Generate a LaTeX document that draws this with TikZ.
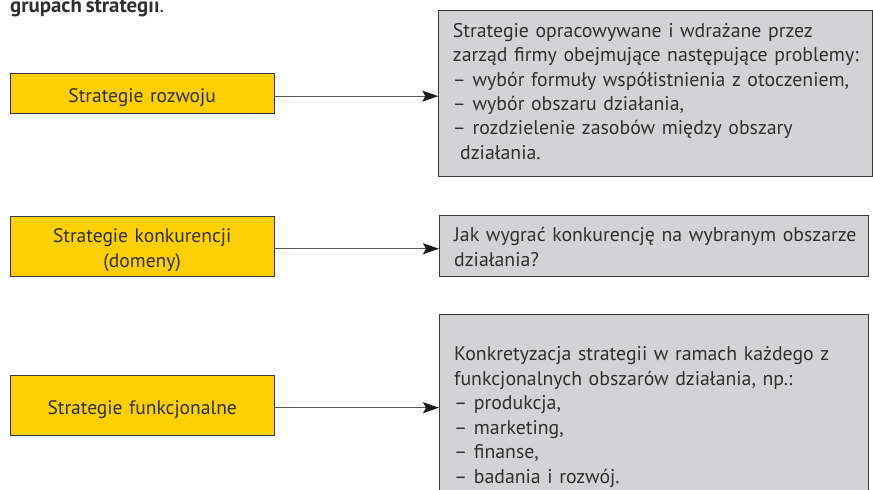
\documentclass[tikz,border=0pt]{standalone}
\usepackage{fontspec}
\setmainfont{PT Sans}
\newfontfamily\descfont[WordSpace=0.75]{PT Sans}
\usetikzlibrary{arrows.meta}

\definecolor{boxyellow}{RGB}{255,208,0}
\definecolor{boxgray}{RGB}{211,211,213}
\definecolor{edgegray}{RGB}{58,58,58}
\definecolor{inkgray}{RGB}{48,48,48}
\definecolor{linegray}{RGB}{90,90,90}
\definecolor{tipink}{RGB}{30,30,30}

% base size from the width of one description line, then per-role sizes
\newlength\probewidth
\newcommand\setbodysize{%
  \settowidth\probewidth{\descfont\fontsize{10}{12}\selectfont zarząd firmy obejmujące następujące problemy:}%
  \pgfmathsetmacro\basesize{10*416/\probewidth}%
  \pgfmathsetmacro\descsize{0.95*\basesize}%
  \pgfmathsetmacro\labelsize{0.937*\basesize}%
  \xdef\basesize{\basesize}\xdef\descsize{\descsize}\xdef\labelsize{\labelsize}}

\tikzset{
  yellowbox/.style={draw=edgegray, line width=0.9pt, fill=boxyellow,
    anchor=north west, minimum width=264.5pt, inner sep=0pt,
    text width=264.5pt, align=center, text=inkgray,
    font=\descfont\fontsize{\labelsize}{25}\selectfont},
  graybox/.style={draw=edgegray, line width=0.9pt, fill=boxgray,
    anchor=north west, inner sep=0pt},
  bodytext/.style={anchor=base west, inner sep=0pt, text width=440pt,
    align=left, text=inkgray},
  link/.style={draw=linegray, line width=1.3pt,
    -{Stealth[length=16pt, width=11pt, inset=3pt, color=tipink]}},
}

\begin{document}
\setbodysize
\begin{tikzpicture}[x=1pt,y=-1pt]
  \useasboundingbox (0,0) rectangle (873,490);
  \clip (0,0) rectangle (873,490);

  % heading line
  \node[anchor=base west, inner sep=0pt, text=inkgray,
        font=\descfont\bfseries\fontsize{\basesize}{24}\selectfont]
    (title) at (10,12) {grupach strategii\textmd{.}};

  % left column: strategy levels
  \node[yellowbox, minimum height=40pt, text height=20pt, text depth=3.2pt]
    (y1) at (9.5,73.3) {Strategie rozwoju};
  \node[yellowbox, minimum height=60pt, text height=14pt, text depth=22pt]
    (y2) at (9.5,215.7) {Strategie konkurencji\\(domeny)};
  \node[yellowbox, minimum height=60.3pt, text height=21.5pt, text depth=3.2pt]
    (y3) at (9.5,375) {Strategie funkcjonalne};

  % right column: descriptions
  \node[graybox, minimum width=433.7pt, minimum height=165.7pt] (g1) at (438.3,10) {};
  \node[graybox, minimum width=429pt, minimum height=60.7pt] (g2) at (439,215) {};
  \node[graybox, minimum width=429pt, minimum height=200pt] (g3) at (439,314.3) {};

  \node[bodytext, font=\descfont\fontsize{\descsize}{24.4}\selectfont]
    (t1) at ([xshift=14.4pt, yshift=-27.3pt]g1.north west)
    {Strategie opracowywane i wdrażane przez\\
     zarząd firmy obejmujące następujące problemy:\\
     – wybór formuły współistnienia z otoczeniem,\\
     – wybór obszaru działania,\\
     – rozdzielenie zasobów między obszary\\
     \hspace*{7.3pt}działania.};
  \node[bodytext, font=\descfont\fontsize{\descsize}{25}\selectfont]
    (t2) at ([xshift=15pt, yshift=-26.7pt]g2.north west)
    {Jak wygrać konkurencję na wybranym obszarze\\
     działania?};
  \node[bodytext, font=\descfont\fontsize{\descsize}{24.5}\selectfont]
    (t3) at ([xshift=15pt, yshift=-46.4pt]g3.north west)
    {Konkretyzacja strategii w ramach każdego z\\
     funkcjonalnych obszarów działania, np.:\\
     – produkcja,\\
     – marketing,\\
     – finanse,\\
     – badania i rozwój.};

  % connectors
  \coordinate (a1) at ([yshift=-2.4pt]y1.east);
  \coordinate (a2) at ([yshift=-2.6pt]y2.east);
  \coordinate (a3) at ([yshift=-2.1pt]y3.east);
  \draw[link] (a1) -- (a1 -| g1.west);
  \draw[link] (a2) -- (a2 -| g2.west);
  \draw[link] (a3) -- (a3 -| g3.west);
\end{tikzpicture}
\end{document}
